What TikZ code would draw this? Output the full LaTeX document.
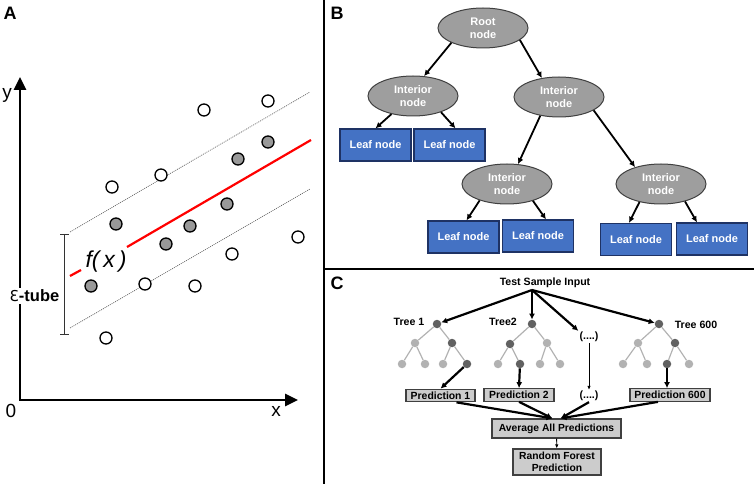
\documentclass[tikz,border=0pt]{standalone}
\usepackage{fontspec}
\setmainfont{Liberation Sans}
\newfontfamily\dejavu{DejaVu Sans}
\usetikzlibrary{shapes.geometric,arrows.meta,calc}
\definecolor{leafblue}{RGB}{68,114,196}
\definecolor{leafedge}{RGB}{30,50,100}
\begin{document}
\begin{tikzpicture}[x=1pt,y=-1pt,
  panellbl/.style={font=\bfseries\fontsize{18}{18}\selectfont, inner sep=0pt},
  axlbl/.style={font=\fontsize{19}{19}\selectfont, inner sep=0pt},
  pt/.style={circle, draw=black, line width=1.3pt, minimum size=12pt, inner sep=0pt, fill=white},
  gpt/.style={pt, fill=black!40},
  ell/.style={ellipse, draw=black!75, line width=1pt, fill=black!38, text=white,
    font=\bfseries\fontsize{11}{13}\selectfont, minimum width=90pt, minimum height=40pt,
    inner sep=0pt, align=center},
  leaf/.style={rectangle, draw=leafedge, fill=leafblue, line width=1.3pt, minimum width=71pt,
    minimum height=32pt, inner sep=0pt, text=white, font=\bfseries\fontsize{11}{13}\selectfont},
  barr/.style={line width=1.8pt, -{Latex[length=6pt,width=6pt]}},
  carr/.style={line width=2.2pt, -{Latex[length=6pt,width=6pt]}},
  tarr/.style={line width=0.9pt, -{Latex[length=4pt,width=3.5pt]}},
  tn/.style={circle, minimum size=8.5pt, inner sep=0pt},
  dk/.style={tn, fill=black!62},
  lt/.style={tn, fill=black!30},
  tedge/.style={draw=black!30, line width=1.2pt},
  ctxt/.style={font=\bfseries\fontsize{10.6}{12}\selectfont, inner sep=1pt},
  pbox/.style={draw=black!75, fill=black!20, line width=1.2pt, inner sep=0pt,
    minimum height=12.5pt, font=\bfseries\fontsize{10.4}{11}\selectfont},
  bigbox/.style={draw=black!75, fill=black!20, line width=1.2pt, inner sep=0pt,
    font=\bfseries\fontsize{10.3}{12.5}\selectfont, align=center}
]
\useasboundingbox (0,0) rectangle (754,486);

% dividers
\draw[line width=2pt] (324,0) -- (324,484);
\draw[line width=2pt] (324,269) -- (754,269);

% ---------------- Panel A ----------------
\node[panellbl] (lA) at (10,13) {A};
\coordinate (O) at (20,400);
\coordinate (ytip) at (20,77);
\coordinate (xtip) at (298,400);
\draw[line width=2.8pt, {Triangle[length=13pt,width=12pt]}-{Triangle[length=13pt,width=12pt]}] (ytip) -- (O) -- (xtip);
\node[axlbl] (ylbl) at (7,95) {y};
\node[axlbl] (zlbl) at (11,411) {0};
\node[axlbl] (xlbl) at (276,411) {x};

\draw[line width=0.7pt, black!60, dash pattern=on 1pt off 1pt] (70,232) -- (310,92);
\draw[line width=0.7pt, black!60, dash pattern=on 1pt off 1pt] (70,328) -- (310,189);
\draw[red, line width=2.2pt] (127,247) -- (311,140);
\draw[red, line width=2.2pt] (70,276) -- (81,270);
\node[font=\itshape\fontsize{23}{23}\selectfont, inner sep=0pt] (fx) at (106,262) {f(\,x\,)};

\draw[line width=0.9pt, black!80] (60,234) -- (69,234) (64,234) -- (64,334) (60,334) -- (69,334);
\node[fill=white, inner sep=1.5pt, font=\bfseries\fontsize{16.5}{17}\selectfont] (eps) at (34.5,296) {{\dejavu\mdseries\fontsize{15}{16}\selectfont Ɛ}-tube};

\foreach \x/\y [count=\i] in {91/286,116/224,166/244,190/226,227/204,238/159,268/142}
  \node[gpt] (g\i) at (\x,\y) {};
\foreach \x/\y [count=\i] in {112/187,161/175,204/110,268/101,298/237,232/254,195/286,145/284,106/338}
  \node[pt] (w\i) at (\x,\y) {};

% ---------------- Panel B ----------------
\node[panellbl] (lB) at (337,13) {B};
\node[ell] (root) at (483,28) {Root\\node};
\node[ell] (iL) at (413,96) {Interior\\node};
\node[ell] (iR) at (559,97) {Interior\\node};
\node[ell] (iLL) at (507,184) {Interior\\node};
\node[ell] (iRR) at (661,184) {Interior\\node};
\node[leaf] (L1) at (375.5,145) {Leaf node};
\node[leaf] (L2) at (449.5,145) {Leaf node};
\node[leaf] (LL1) at (463.5,237) {Leaf node};
\node[leaf] (LL2) at (538,236) {Leaf node};
\node[leaf] (RR1) at (636,239.5) {Leaf node};
\node[leaf] (RR2) at (712,239) {Leaf node};

\draw[barr] (root.205) -- (iL.61);
\draw[barr] (root.342) -- (iR.132);
\draw[barr] (iL.220) -- (L1.north);
\draw[barr] (iL.330) -- ([xshift=6pt]L2.north);
\draw[barr] (iR.225) -- (iLL.61);
\draw[barr] (iR.339) -- (iRR.147);
\draw[barr] (iLL.211) -- ([xshift=3pt]LL1.north);
\draw[barr] (iLL.327) -- ([xshift=8pt]LL2.north);
\draw[barr] (iRR.220) -- ([xshift=-7pt]RR1.north);
\draw[barr] (iRR.324) -- ([xshift=-15pt]RR2.north);

% ---------------- Panel C ----------------
\node[panellbl] (lC) at (337,283) {C};
\node[ctxt] (tsi) at (545,283) {Test Sample Input};
\coordinate (src) at (532,290);

\node[ctxt] (tl1) at (409,322) {Tree 1};
\node[ctxt] (tl2) at (503,322) {Tree2};
\node[ctxt] (tl600) at (696,325) {Tree 600};

% tree 1
\node[dk] (a0) at (437,324) {};
\node[lt] (a1) at (415,343) {};
\node[dk] (a2) at (452,343) {};
\node[lt] (a3) at (402,364) {};
\node[lt] (a4) at (425,364) {};
\node[lt] (a5) at (443,364) {};
\node[dk] (a6) at (467,364) {};
% tree 2
\node[dk] (b0) at (532,324) {};
\node[dk] (b1) at (510,344) {};
\node[lt] (b2) at (547,343) {};
\node[lt] (b3) at (498,364) {};
\node[dk] (b4) at (520,364) {};
\node[lt] (b5) at (540,364) {};
\node[lt] (b6) at (560,364) {};
% tree 600
\node[dk] (c0) at (659,324) {};
\node[lt] (c1) at (638,343) {};
\node[dk] (c2) at (675,343) {};
\node[lt] (c3) at (623,364) {};
\node[lt] (c4) at (647,364) {};
\node[dk] (c5) at (667,364) {};
\node[lt] (c6) at (689,364) {};
\foreach \t in {a,b,c} {
  \draw[tedge] (\t0) -- (\t1);
  \draw[tedge] (\t0) -- (\t2);
  \draw[tedge] (\t1) -- (\t3);
  \draw[tedge] (\t1) -- (\t4);
  \draw[tedge] (\t2) -- (\t5);
  \draw[tedge] (\t2) -- (\t6);
}
\node[ctxt] (dA) at (589,337) {(....)};
\node[ctxt] (dB) at (589,396) {(....)};

\node[pbox, minimum width=69pt] (p1) at (440.5,395.5) {Prediction 1};
\node[pbox, minimum width=70pt] (p2) at (519,395) {Prediction 2};
\node[pbox, minimum width=80pt] (p600) at (670,395) {Prediction 600};
\node[bigbox, minimum width=129pt, minimum height=19pt] (avg) at (556.5,428.5) {Average All Predictions};
\node[bigbox, minimum width=88pt, minimum height=26pt] (rf) at (557,462) {Random Forest\\Prediction};

\draw[carr] (src) -- (a0);
\draw[carr] (src) -- (b0);
\draw[carr] (src) -- (dA.north west);
\draw[carr] (src) -- (c0);

\draw[carr] (a6) -- (p1.north);
\draw[carr] (b4) -- (p2.north);
\draw[tarr] (dA) -- (dB);
\draw[carr] (c5) -- ([xshift=-3pt]p600.north);

\draw[carr] ([xshift=16pt]p1.south) -- ([xshift=-4pt]avg.north);
\draw[carr] (p2.south) -- ([xshift=-4pt]avg.north);
\draw[carr] (dB.south) -- ([xshift=4pt]avg.north);
\draw[carr] ([xshift=-12pt]p600.south) -- ([xshift=4pt]avg.north);
\draw[tarr] (avg) -- (rf);
\end{tikzpicture}
\end{document}
